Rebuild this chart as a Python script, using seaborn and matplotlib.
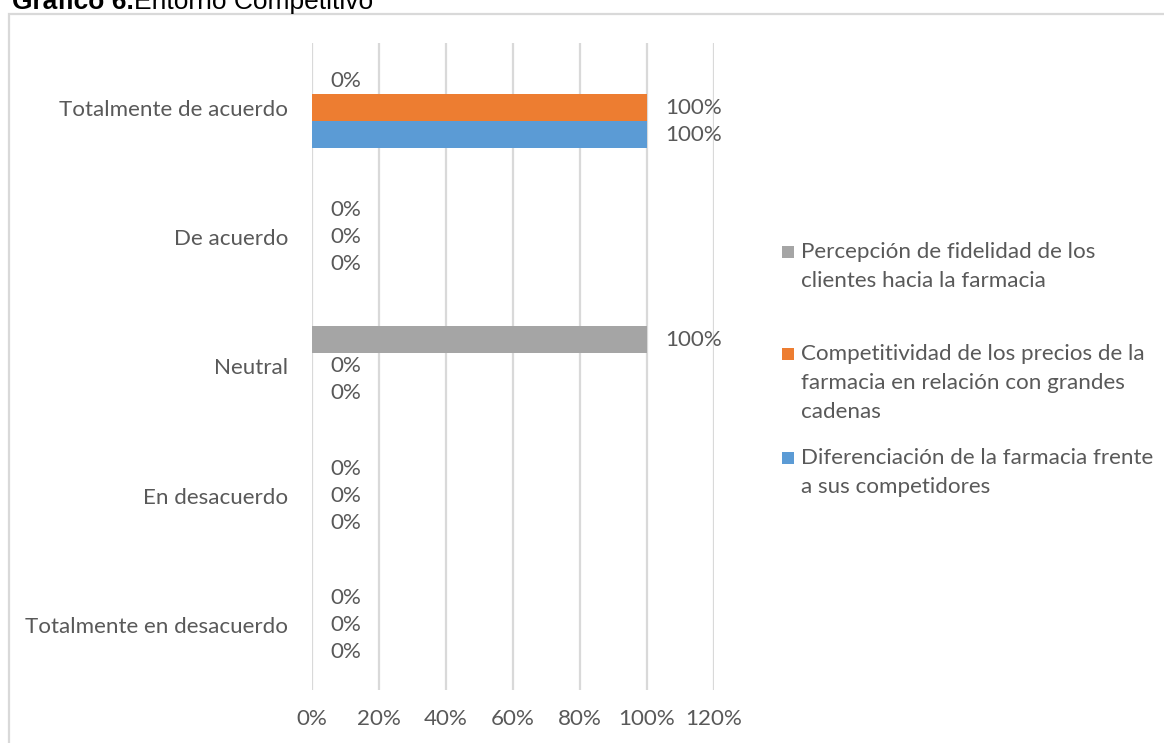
import matplotlib
matplotlib.use("Agg")
import matplotlib.pyplot as plt
from matplotlib.patches import Rectangle
from matplotlib.ticker import FuncFormatter
import pandas as pd
import seaborn as sns

# Survey answers (Likert scale) and share of respondents per item, in %
categories = ["Totalmente de acuerdo", "De acuerdo", "Neutral",
              "En desacuerdo", "Totalmente en desacuerdo"]
series = ["Percepción de fidelidad de los clientes hacia la farmacia",
          "Competitividad de los precios de la farmacia en relación con grandes cadenas",
          "Diferenciación de la farmacia frente a sus competidores"]
legend_labels = ["Percepción de fidelidad de los\nclientes hacia la farmacia",
                 "Competitividad de los precios de la\nfarmacia en relación con grandes\ncadenas",
                 "Diferenciación de la farmacia frente\na sus competidores"]
fidelidad = [0, 0, 100, 0, 0]
precios = [100, 0, 0, 0, 0]
diferenciacion = [100, 0, 0, 0, 0]
x_ticks = [0, 20, 40, 60, 80, 100, 120]
colors = ["#a5a5a5", "#ed7d31", "#5b9bd5"]

sns.set_theme(style="white")
plt.rcParams["font.family"] = ["Lato", "DejaVu Sans"]
TXT = "#595959"
FS = 16.1

rows = []
for name, vals in zip(series, [fidelidad, precios, diferenciacion]):
    for cat, v in zip(categories, vals):
        rows.append({"Respuesta": cat, "Serie": name, "Porcentaje": v})
df = pd.DataFrame(rows)

W, H = 1164, 743
fig = plt.figure(figsize=(W / 100, H / 100), dpi=100)
ax = fig.add_axes([312 / W, 1 - 690 / H, (714 - 312) / W, (690 - 43) / H])

sns.barplot(data=df, y="Respuesta", x="Porcentaje", hue="Serie",
            order=categories, hue_order=series, palette=colors,
            orient="h", width=0.625, saturation=1, linewidth=0,
            legend=False, ax=ax)

for cont in ax.containers:
    ax.bar_label(cont, fmt=lambda v: f"{v:.0f}%", padding=13,
                 fontsize=FS, color=TXT)

ax.set_xlim(0, 120)
ax.set_xticks(x_ticks)
ax.xaxis.set_major_formatter(FuncFormatter(lambda v, p: f"{v:.0f}%"))
ax.set_xlabel("")
ax.set_ylabel("")
ax.grid(axis="x", color="#d9d9d9", linewidth=1.6)
ax.grid(axis="y", visible=False)
ax.set_axisbelow(True)
for s in ax.spines.values():
    s.set_visible(False)
ax.tick_params(axis="y", length=0, pad=17, labelsize=FS, labelcolor=TXT)
ax.tick_params(axis="x", length=0, pad=14, labelsize=FS, labelcolor=TXT)

# Legend, drawn as swatches and wrapped labels on the right
first_line_y = [252, 354, 458]
line_step = 29
for lab, col, y0 in zip(legend_labels, colors, first_line_y):
    fig.patches.append(Rectangle((782 / W, 1 - (y0 + 6) / H), 12 / W, 12 / H,
                                 transform=fig.transFigure, color=col,
                                 linewidth=0))
    for i, line in enumerate(lab.split("\n")):
        fig.text(801 / W, 1 - (y0 + i * line_step) / H, line, fontsize=FS,
                 color=TXT, va="center", ha="left")

# Outer chart frame
fig.patches.append(Rectangle((9 / W, -0.05), 1.2, 1 - 14 / H + 0.05,
                             transform=fig.transFigure, fill=False,
                             edgecolor="#d9d9d9", linewidth=1.6))

# Caption above the frame
renderer = fig.canvas.get_renderer()
t1 = fig.text(12 / W, 1 - 9 / H, "Gráfico 6.", fontsize=19,
              fontweight="bold", family=["Liberation Sans", "DejaVu Sans"],
              color="black", va="baseline", ha="left")
bb = t1.get_window_extent(renderer)
fig.text(bb.x1 / W, 1 - 9 / H, "Entorno Competitivo", fontsize=19,
         family=["Liberation Sans", "DejaVu Sans"], color="black",
         va="baseline", ha="left")

fig.savefig("out.png", dpi=100)
